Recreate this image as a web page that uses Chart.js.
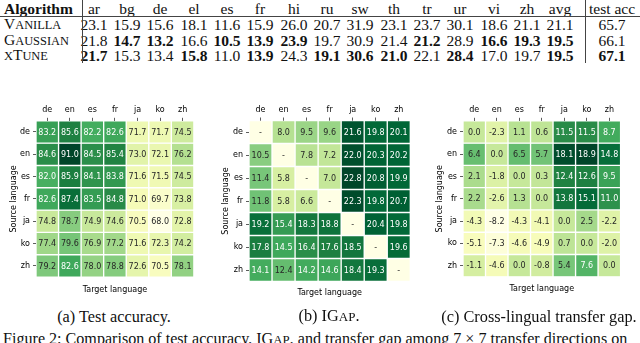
<!DOCTYPE html>
<html><head><meta charset="utf-8">
<script src="https://cdn.jsdelivr.net/npm/chart.js@4.4.0/dist/chart.umd.min.js"></script>
<style>
html,body{margin:0;padding:0;background:#fff;width:640px;height:343px;overflow:hidden;position:relative;font-family:"Liberation Serif","Times New Roman",serif;color:#111;}
.t{position:absolute;white-space:nowrap;font-size:15.5px;line-height:15px;transform:translate(-50%,-50%);}
.l{position:absolute;white-space:nowrap;font-size:15.5px;line-height:15px;transform:translate(0,-50%);}
.cap{font-size:16.3px;}
.fig{font-size:16.1px;}
.s{font-size:0.8em;}
.b{font-weight:bold;}
canvas{position:absolute;}
.rule{position:absolute;background:#444;}
</style></head><body>
<div id="tbl"></div>
<canvas id="h1"></canvas>
<canvas id="h2"></canvas>
<canvas id="h3"></canvas>
<div class="t cap" style="left:114px;top:316px">(a) Test accuracy.</div>
<div class="t cap" style="left:329px;top:316px">(b) IG<span class="s">AP</span>.</div>
<div class="t cap" style="left:539px;top:316px">(c) Cross-lingual transfer gap.</div>
<div class="l fig" style="left:3px;top:339px">Figure 2: Comparison of test accuracy, IG<span class="s">AP</span>, and transfer gap among 7 × 7 transfer directions on</div>
<script>
// ---------- table data ----------
const tableCols = ['ar','bg','de','el','es','fr','hi','ru','sw','th','tr','ur','vi','zh','avg'];
const algorithms = ['Vanilla','Gaussian','xTune'];
const vanillaGap  = [23.1,15.9,15.6,18.1,11.6,15.9,26.0,20.7,31.9,23.1,23.7,30.1,18.6,21.1,21.1];
const gaussianGap = [21.8,14.7,13.2,16.6,10.5,13.9,23.9,19.7,30.9,21.4,21.2,28.9,16.6,19.3,19.5];
const xtuneGap    = [21.7,15.3,13.4,15.8,11.0,13.9,24.3,19.1,30.6,21.0,22.1,28.4,17.0,19.7,19.5];
const testAcc     = [65.7,66.1,67.1];

// ---------- heatmap data ----------
const langs = ['de','en','es','fr','ja','ko','zh'];
const accMatrix = [
  [83.2,85.6,82.2,82.6,71.7,71.7,74.5],
  [84.6,91.0,84.5,85.4,73.0,72.1,76.2],
  [82.0,85.9,84.1,83.8,71.6,71.5,74.5],
  [82.6,87.4,83.5,84.8,71.0,69.7,73.8],
  [74.8,78.7,74.9,74.6,70.5,68.0,72.8],
  [77.4,79.6,76.9,77.2,71.6,72.3,74.2],
  [79.2,82.6,78.0,78.8,72.6,70.5,78.1]
];
const igapMatrix = [
  [null,8.0,9.5,9.6,21.6,19.8,20.1],
  [10.5,null,7.8,7.2,22.0,20.3,20.2],
  [11.4,5.8,null,7.0,22.8,20.8,19.9],
  [11.8,5.8,6.6,null,22.3,19.8,20.7],
  [19.2,15.4,18.3,18.8,null,20.4,19.8],
  [17.8,14.5,16.4,17.6,18.5,null,19.6],
  [14.1,12.4,14.2,14.6,18.4,19.3,null]
];
const gapMatrix = [
  [0.0,-2.3,1.1,0.6,11.5,11.5,8.7],
  [6.4,0.0,6.5,5.7,18.1,18.9,14.8],
  [2.1,-1.8,0.0,0.3,12.4,12.6,9.5],
  [2.2,-2.6,1.3,0.0,13.8,15.1,11.0],
  [-4.3,-8.2,-4.3,-4.1,0.0,2.5,-2.2],
  [-5.1,-7.3,-4.6,-4.9,0.7,0.0,-2.0],
  [-1.1,-4.6,0.0,-0.8,5.4,7.6,0.0]
];

// small caps helper: first letter full size, rest as reduced capitals
function smallCaps(word){
  let out='', run='';
  const flush=()=>{ if(run){ out+='<span class="s">'+run.toUpperCase()+'</span>'; run=''; } };
  for(const ch of word){
    if(ch===ch.toUpperCase()){ flush(); out+=ch; } else run+=ch;
  }
  flush();
  return out;
}

// ---------- table layout ----------
(function(){
  const tbl = document.getElementById('tbl');
  const colX = [94,127,160,194,227,260,294,327,360,394,427,460,494,527,560];
  const testX = 612;
  const rowY = [8,24,39.5,55];
  const add = (html, cls, x, y) => { const d=document.createElement('div'); d.className=cls; d.style.left=x+'px'; d.style.top=y+'px'; d.innerHTML=html; tbl.appendChild(d); };
  add('Algorithm','l b',4,rowY[0]);
  tableCols.forEach((c,i)=>add(c,'t',colX[i],rowY[0]));
  add('test acc','t',testX,rowY[0]);
  const rows=[vanillaGap,gaussianGap,xtuneGap];
  const best = tableCols.map((_,j)=>Math.min(...rows.map(r=>r[j])));
  const bestAcc = Math.max(...testAcc);
  rows.forEach((r,i)=>{
    add(smallCaps(algorithms[i]),'l',4,rowY[i+1]);
    r.forEach((v,j)=>add(v.toFixed(1), v===best[j]?'t b':'t', colX[j], rowY[i+1]));
    add(testAcc[i].toFixed(1), testAcc[i]===bestAcc?'t b':'t', testX, rowY[i+1]);
  });
  const rule=(x,y,w,h)=>{const d=document.createElement('div');d.className='rule';Object.assign(d.style,{left:x+'px',top:y+'px',width:w+'px',height:h+'px'});tbl.appendChild(d);};
  rule(0,15.5,640,1.3);
  rule(82,0,1,63);
  rule(585,0,1,63);
})();

// ---------- heatmaps ----------
Chart.defaults.font.family = '"DejaVu Sans", sans-serif';
const YLGN = ['#ffffe5','#f7fcb9','#d9f0a3','#addd8e','#78c679','#41ab5d','#238443','#006837','#004529'].map(h=>[parseInt(h.slice(1,3),16),parseInt(h.slice(3,5),16),parseInt(h.slice(5,7),16)]);
function cmap(t){
  t=Math.max(0,Math.min(1,t)); const p=t*8; const i=Math.min(7,Math.floor(p)); const f=p-i;
  return YLGN[i].map((c,k)=>Math.round(c+(YLGN[i+1][k]-c)*f));
}
function lum(rgb){
  const l=rgb.map(c=>{c/=255;return c<=0.03928?c/12.92:Math.pow((c+0.055)/1.055,2.4);});
  return 0.2126*l[0]+0.7152*l[1]+0.0722*l[2];
}
function heatmap(id, values, box){
  const W = Math.round(box.gw + 80), canvasLeft = box.gx - 40;
  const H = Math.round(box.xty + 8 - 90);
  const cv = document.getElementById(id);
  cv.width=W; cv.height=H;
  Object.assign(cv.style,{left:canvasLeft+'px',top:'90px',width:W+'px',height:H+'px'});
  const chartTop = box.gy - 90;
  const padLeft = box.ytx - canvasLeft - 8.8;
  const yAxisW = 40 - padLeft;
  const titlePadTop = box.xty - (box.gy+box.gh) - 4.8;
  const titleH = titlePadTop + 9.6;
  const padBottom = H - chartTop - box.gh - titleH;
  const padRight = W - 40 - box.gw;
  const cv2 = values.map(r=>r.map(v=>v===null?0:v));
  const flat = cv2.flat();
  const vmin=Math.min(...flat), vmax=Math.max(...flat);
  const colors = cv2.map(r=>r.map(v=>cmap((v-vmin)/(vmax-vmin))));
  const datasets = values.map((row,i)=>({
    data: row.map(()=>[i-0.5,i+0.5]),
    backgroundColor: colors[i].map(c=>`rgb(${c[0]},${c[1]},${c[2]})`),
    borderColor:'#ffffff', borderWidth:1, borderSkipped:false,
    barPercentage:1, categoryPercentage:1, grouped:false
  }));
  const annot = { id:'annot'+id, afterDatasetsDraw(chart){
    const ctx=chart.ctx; ctx.save();
    ctx.font='8px "DejaVu Sans"'; ctx.textAlign='center'; ctx.textBaseline='middle';
    chart.data.datasets.forEach((ds,i)=>{
      chart.getDatasetMeta(i).data.forEach((el,j)=>{
        const v=values[i][j];
        ctx.fillStyle = lum(colors[i][j])>0.39 ? '#262626' : '#ffffff';
        ctx.fillText(v===null?'-':v.toFixed(1), el.x, (el.y+el.base)/2+0.5);
      });
    });
    ctx.restore();
  }};
  new Chart(cv,{
    type:'bar',
    data:{labels:langs, datasets},
    options:{
      responsive:false, animation:false, events:[], devicePixelRatio:1,
      layout:{padding:{left:padLeft,right:padRight,top:0,bottom:padBottom}},
      plugins:{legend:{display:false},tooltip:{enabled:false},
        title:{display:true,position:'bottom',fullSize:false,text:'Target language',color:'#000',
          font:{size:8,weight:'normal'},padding:{top:titlePadTop,bottom:0}}},
      scales:{
        x:{type:'category',position:'top',offset:true,
          grid:{offset:false,drawOnChartArea:false,drawTicks:true,tickLength:3,color:'#333',lineWidth:0.8},
          border:{display:false},
          ticks:{font:{size:8},color:'#000',padding:3,maxRotation:0,autoSkip:false},
          afterFit(s){ s.height = chartTop; }},
        y:{type:'linear',min:-0.5,max:6.5,reverse:true,
          afterBuildTicks(s){ s.ticks = langs.map((_,k)=>({value:k})); },
          ticks:{callback:(v)=>langs[v],font:{size:8},color:'#000',padding:3,autoSkip:false},
          grid:{drawOnChartArea:false,drawTicks:true,tickLength:3,color:'#333',lineWidth:0.8},
          border:{display:false},
          title:{display:true,text:'Source language',color:'#000',font:{size:8},padding:{top:4,bottom:4}},
          afterFit(s){ s.width = yAxisW; }}
      }
    },
    plugins:[annot]
  });
}
heatmap('h1', accMatrix,  {gx:36.4, gy:120.8, gw:157.9, gh:156.3, ytx:14,  xty:290});
heatmap('h2', igapMatrix, {gx:248.5,gy:120.5, gw:161.3, gh:161,   ytx:225, xty:293});
heatmap('h3', gapMatrix,  {gx:463,  gy:120.8, gw:157.6, gh:156,   ytx:440, xty:289});
</script>
</body></html>
